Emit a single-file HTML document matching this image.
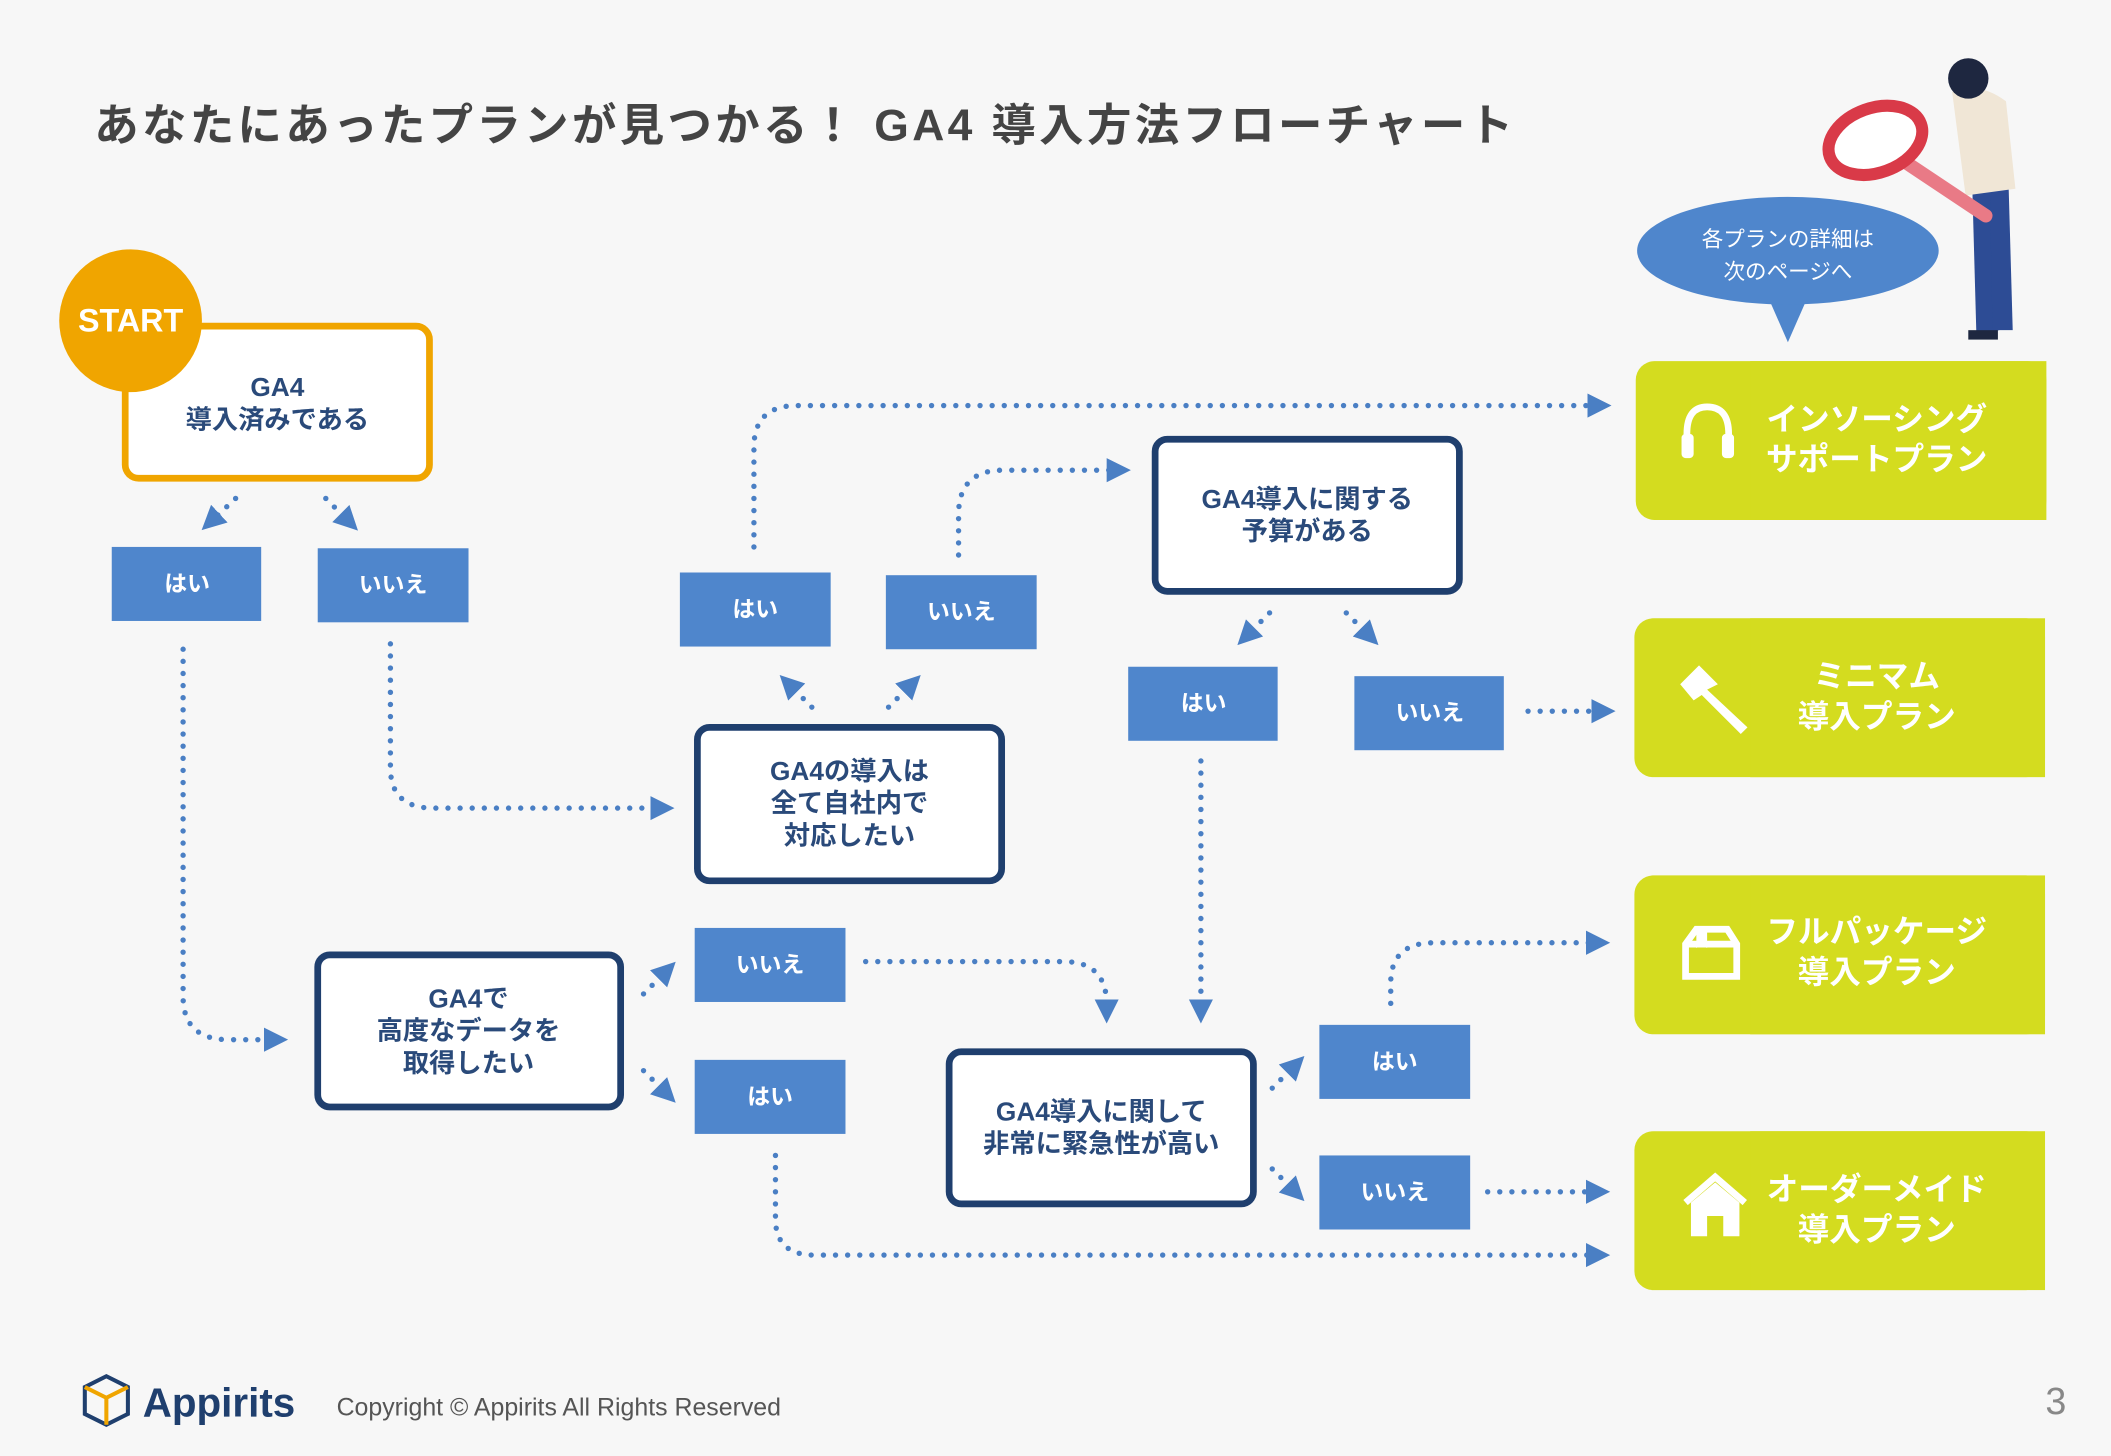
<!DOCTYPE html>
<html><head><meta charset="utf-8"><style>
html,body{margin:0;padding:0;background:#f7f7f7;}
svg{display:block}
text{font-family:"Liberation Sans","Noto Sans CJK JP",sans-serif;}
</style></head><body>
<svg width="2111" height="1456" viewBox="0 0 1568 1081" xmlns="http://www.w3.org/2000/svg">
<defs>
<marker id="ar" markerWidth="20" markerHeight="20" refX="4" refY="10" orient="auto" markerUnits="userSpaceOnUse">
<path d="M0,1 L18,10 L0,19 Z" fill="#4a7fc4"/></marker>
</defs>
<rect width="1568" height="1081" fill="#f7f7f7"/>
<text x="70" y="104" font-size="33" font-weight="bold" fill="#444" letter-spacing="2.5">あなたにあったプランが見つかる！ GA4 導入方法フローチャート</text>

<g fill="none" stroke="#4a7fc4" stroke-width="4" stroke-dasharray="0 9" stroke-linecap="round" marker-end="url(#ar)">
<path d="M136,482 V740 Q136,772 170,772 H200"/>
<path d="M290,478 V570 Q290,600 322,600 H487"/>
<path d="M560,406 V332 Q560,301 592,301 H1183"/>
<path d="M712,412 V382 Q712,349 745,349 H826"/>
<path d="M175,370 L160,384"/>
<path d="M242,370 L256,384"/>
<path d="M603,525 L589,511"/>
<path d="M660,525 L674,511"/>
<path d="M943,455 L929,469"/>
<path d="M1000,455 L1014,469"/>
<path d="M1135,528 H1186"/>
<path d="M892,565 V746" />
<path d="M478,738 L492,724"/>
<path d="M478,795 L492,809"/>
<path d="M643,714 H790 Q822,714 822,746"/>
<path d="M576,858 V905 Q576,932 605,932 H1182"/>
<path d="M945,808 L959,794"/>
<path d="M945,868 L959,882"/>
<path d="M1033,745 V730 Q1033,700 1065,700 H1182"/>
<path d="M1105,885 H1182"/>
</g>

<rect x="93" y="242" width="226" height="113" rx="10" fill="#fff" stroke="#f0a500" stroke-width="5"/>
<circle cx="97" cy="238" r="53" fill="#f0a500"/>
<text x="97" y="246" font-size="24" font-weight="bold" fill="#fff" text-anchor="middle">START</text>
<g font-size="19.5" font-weight="bold" fill="#2a4a7a" text-anchor="middle">
<text x="206" y="294">GA4</text><text x="206" y="318">導入済みである</text>
</g>

<g fill="#fff" stroke="#1f3f6e" stroke-width="5">
<rect x="518" y="540" width="226" height="114" rx="9"/>
<rect x="858" y="326" width="226" height="113" rx="9"/>
<rect x="236" y="709" width="225" height="113" rx="9"/>
<rect x="705" y="781" width="226" height="113" rx="9"/>
</g>
<g font-size="19.5" font-weight="bold" fill="#2a4a7a" text-anchor="middle">
<text x="631" y="579">GA4の導入は</text><text x="631" y="603">全て自社内で</text><text x="631" y="627">対応したい</text>
<text x="971" y="377">GA4導入に関する</text><text x="971" y="401">予算がある</text>
<text x="348" y="748">GA4で</text><text x="348" y="772">高度なデータを</text><text x="348" y="796">取得したい</text>
<text x="818" y="832">GA4導入に関して</text><text x="818" y="856">非常に緊急性が高い</text>
</g>

<g fill="#4f86cc">
<rect x="83" y="406" width="111" height="55"/><rect x="236" y="407" width="112" height="55"/>
<rect x="505" y="425" width="112" height="55"/><rect x="658" y="427" width="112" height="55"/>
<rect x="838" y="495" width="111" height="55"/><rect x="1006" y="502" width="111" height="55"/>
<rect x="516" y="689" width="112" height="55"/><rect x="516" y="787" width="112" height="55"/>
<rect x="980" y="761" width="112" height="55"/><rect x="980" y="858" width="112" height="55"/>
</g>
<g font-size="17" font-weight="bold" fill="#fff" text-anchor="middle">
<text x="139" y="439">はい</text><text x="292" y="440">いいえ</text>
<text x="561" y="458">はい</text><text x="714" y="460">いいえ</text>
<text x="894" y="528">はい</text><text x="1062" y="535">いいえ</text>
<text x="572" y="722">いいえ</text><text x="572" y="820">はい</text>
<text x="1036" y="794">はい</text><text x="1036" y="891">いいえ</text>
</g>

<g fill="#d4dc1f">
<rect x="1215" y="268" width="305" height="118" rx="14"/><rect x="1300" y="268" width="220" height="118"/>
<rect x="1214" y="459" width="305" height="118" rx="14"/><rect x="1300" y="459" width="219" height="118"/>
<rect x="1214" y="650" width="305" height="118" rx="14"/><rect x="1300" y="650" width="219" height="118"/>
<rect x="1214" y="840" width="305" height="118" rx="14"/><rect x="1300" y="840" width="219" height="118"/>
</g>
<g font-size="23.5" font-weight="bold" fill="#fff" text-anchor="middle">
<text x="1394" y="319">インソーシング</text><text x="1394" y="349">サポートプラン</text>
<text x="1394" y="510">ミニマム</text><text x="1394" y="540">導入プラン</text>
<text x="1394" y="700">フルパッケージ</text><text x="1394" y="730">導入プラン</text>
<text x="1394" y="891">オーダーメイド</text><text x="1394" y="921">導入プラン</text>
</g>
<g fill="none" stroke="#fff" stroke-width="5">
<path d="M1253,333 V322 Q1253,302 1268,302 Q1284,302 1284,322 V333"/>
<path d="M1252,701 L1260,690 H1283 L1290,701 V725 H1252 Z M1252,701 H1290"/>
<path d="M1252,893 L1274,874 L1296,893"/>
</g>
<g fill="#fff">
<rect x="1249" y="322" width="9" height="18" rx="3"/><rect x="1279" y="322" width="9" height="18" rx="3"/>
<path d="M1248,508 L1262,494 L1276,508 L1268,512 L1298,540 L1293,545 L1264,516 L1258,520 Z"/>
<path d="M1260,690 h8 v14 l-4,-3 l-4,3 z"/>
<path d="M1256,893 L1274,878 L1292,893 V918 H1280 V903 H1268 V918 H1256 Z"/>
</g>

<path d="M1314,222 L1328,254 L1342,222 Z" fill="#4f86cc"/>
<ellipse cx="1328" cy="186" rx="112" ry="40" fill="#4f86cc"/>
<g font-size="16" fill="#fff" text-anchor="middle">
<text x="1328" y="183">各プランの詳細は</text><text x="1328" y="207">次のページへ</text>
</g>

<path d="M1465,140 L1480,140 L1485,245 L1468,248 Z" fill="#2d4c95"/>
<path d="M1478,140 L1492,140 L1495,245 L1480,245 Z" fill="#2d4c95"/>
<path d="M1450,68 Q1470,60 1490,75 L1497,140 L1460,145 Z" fill="#f0e6d6"/>
<circle cx="1462" cy="58" r="15" fill="#1e2740"/>
<rect x="1462" y="245" width="22" height="7" fill="#1e2740"/>
<line x1="1400" y1="110" x2="1475" y2="160" stroke="#e97a86" stroke-width="10" stroke-linecap="round"/>
<ellipse cx="1393" cy="104" rx="36" ry="24" fill="#fff" stroke="#d93a48" stroke-width="9" transform="rotate(-20 1393 104)"/>

<path d="M63,1030 L79,1022 L95,1030 V1050 L79,1058 L63,1050 Z" fill="none" stroke="#1f3f6e" stroke-width="3"/>
<path d="M63,1030 L79,1038 L95,1030 M79,1038 V1058" fill="none" stroke="#f0a500" stroke-width="3"/>
<text x="106" y="1052" font-size="30" font-weight="bold" fill="#1f3f6e">Appirits</text>
<text x="250" y="1051" font-size="18.5" fill="#555">Copyright ©  Appirits All Rights Reserved</text>
<text x="1527" y="1050" font-size="28" fill="#888" text-anchor="middle">3</text>
</svg>
</body></html>
